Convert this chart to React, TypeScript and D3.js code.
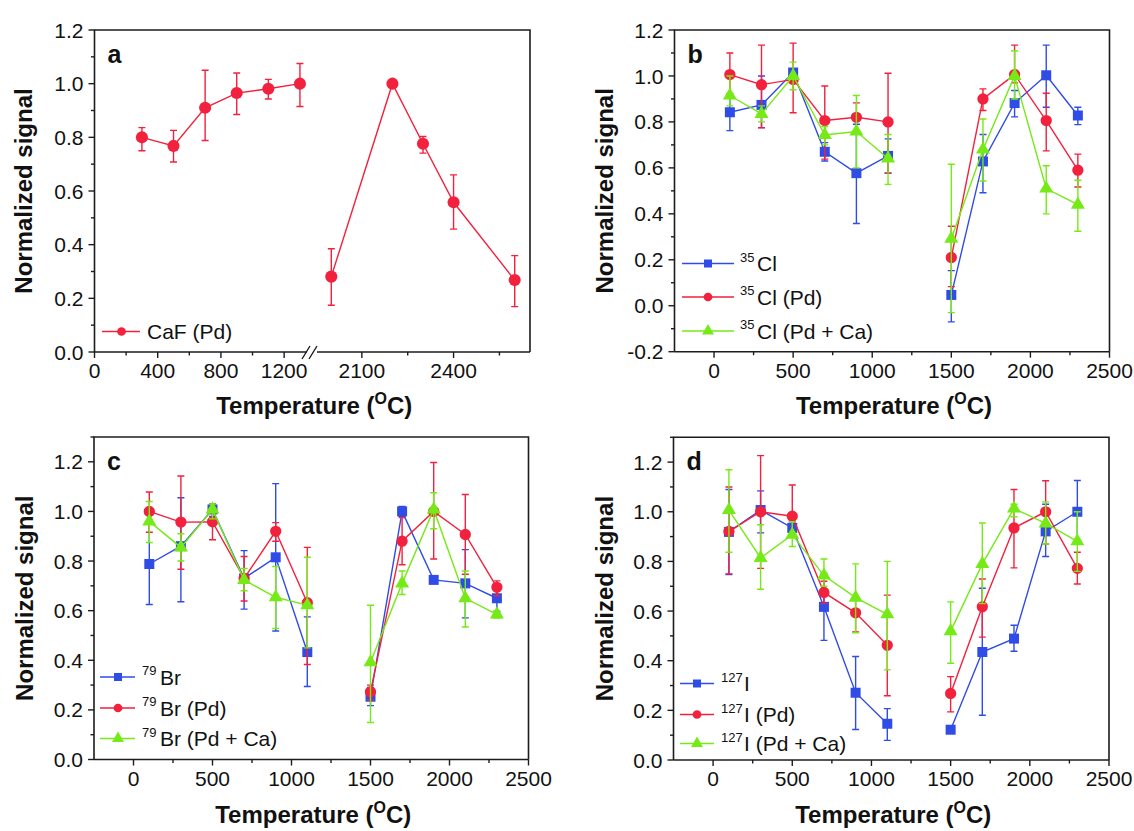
import React from "react";
import * as d3 from "d3";

// ---------------- data ----------------
const TEMPS = [100, 300, 500, 700, 900, 1100, 1500, 1700, 1900, 2100, 2300];

// panel a : CaF (Pd)
const CAF_TEMPS = [300, 500, 700, 900, 1100, 1300, 2000, 2200, 2300, 2400, 2600];
const CAF_PD = [0.8, 0.768, 0.91, 0.965, 0.981, 1.0, 0.281, 1.0, 0.776, 0.558, 0.268];
const CAF_PD_LO = [0.75, 0.708, 0.788, 0.885, 0.943, 0.915, 0.174, 1.0, 0.741, 0.458, 0.169];
const CAF_PD_HI = [0.836, 0.826, 1.05, 1.04, 1.016, 1.075, 0.385, 1.0, 0.803, 0.66, 0.359];

// panel b : 35Cl
const CL = [0.842, 0.874, 1.015, 0.67, 0.577, 0.652, 0.047, 0.628, 0.882, 1.003, 0.828];
const CL_LO = [0.762, 0.775, 0.99, 0.63, 0.358, 0.577, -0.07, 0.492, 0.822, 0.864, 0.788];
const CL_HI = [0.923, 1.0, 1.03, 0.71, 0.79, 0.726, 0.153, 0.745, 0.937, 1.134, 0.864];
const CL_PD = [1.006, 0.962, 0.985, 0.806, 0.82, 0.8, 0.21, 0.9, 1.006, 0.806, 0.59];
const CL_PD_LO = [0.905, 0.774, 0.84, 0.638, 0.75, 0.577, 0.083, 0.85, 0.97, 0.674, 0.517];
const CL_PD_HI = [1.1, 1.134, 1.143, 0.956, 0.883, 1.012, 0.346, 0.944, 1.134, 0.925, 0.66];
const CL_PDCA = [0.915, 0.835, 1.0, 0.743, 0.758, 0.641, 0.292, 0.68, 1.0, 0.51, 0.44];
const CL_PDCA_LO = [0.87, 0.8, 0.94, 0.7, 0.6, 0.528, -0.03, 0.543, 0.9, 0.4, 0.324];
const CL_PDCA_HI = [1.0, 0.87, 1.06, 0.78, 0.915, 0.745, 0.616, 0.813, 1.11, 0.609, 0.546];

// panel c : 79Br
const BR = [0.788, 0.86, 1.008, 0.73, 0.815, 0.433, 0.253, 1.0, 0.724, 0.71, 0.65];
const BR_LO = [0.625, 0.636, 0.98, 0.606, 0.518, 0.294, 0.217, 0.98, 0.71, 0.571, 0.595];
const BR_HI = [0.95, 1.055, 1.03, 0.842, 1.112, 0.575, 0.29, 1.02, 0.74, 0.846, 0.7];
const BR_PD = [1.0, 0.957, 0.958, 0.73, 0.92, 0.632, 0.273, 0.88, 1.0, 0.907, 0.694];
const BR_PD_LO = [0.916, 0.767, 0.886, 0.639, 0.88, 0.383, 0.24, 0.785, 0.808, 0.747, 0.66];
const BR_PD_HI = [1.078, 1.143, 1.03, 0.818, 0.955, 0.855, 0.3, 0.975, 1.197, 1.068, 0.72];
const BR_PDCA = [0.96, 0.855, 1.008, 0.724, 0.654, 0.622, 0.392, 0.71, 1.008, 0.65, 0.585];
const BR_PDCA_LO = [0.875, 0.8, 0.97, 0.68, 0.528, 0.45, 0.149, 0.665, 0.93, 0.534, 0.57];
const BR_PDCA_HI = [1.04, 0.91, 1.03, 0.77, 0.778, 0.815, 0.622, 0.76, 1.075, 0.76, 0.6];

// panel d : 127I
const IO = [0.919, 1.007, 0.935, 0.617, 0.271, 0.146, 0.122, 0.435, 0.489, 0.921, 1.0];
const IO_LO = [0.747, 0.915, 0.9, 0.482, 0.123, 0.079, 0.11, 0.18, 0.438, 0.82, 0.88];
const IO_HI = [1.09, 1.084, 0.96, 0.752, 0.417, 0.207, 0.135, 0.692, 0.543, 1.03, 1.126];
const IO_PD = [0.921, 1.0, 0.982, 0.675, 0.593, 0.462, 0.268, 0.617, 0.935, 1.0, 0.772];
const IO_PD_LO = [0.75, 0.772, 0.9, 0.63, 0.516, 0.259, 0.194, 0.495, 0.774, 0.87, 0.709];
const IO_PD_HI = [1.1, 1.226, 1.108, 0.72, 0.66, 0.664, 0.336, 0.729, 1.09, 1.125, 0.837];
const IO_PDCA = [1.007, 0.814, 0.908, 0.743, 0.654, 0.587, 0.519, 0.79, 1.013, 0.953, 0.881];
const IO_PDCA_LO = [0.837, 0.688, 0.86, 0.7, 0.512, 0.363, 0.39, 0.63, 0.98, 0.87, 0.76];
const IO_PDCA_HI = [1.169, 0.948, 0.96, 0.81, 0.79, 0.8, 0.637, 0.955, 1.03, 1.04, 1.0];

// tick values
const X_TICKS = [0, 500, 1000, 1500, 2000, 2500];
const X_MINOR = [250, 750, 1250, 1750, 2250];
const A_X_TICKS_1 = [0, 400, 800, 1200];
const A_X_MINOR_1 = [200, 600, 1000];
const A_X_TICKS_2 = [2100, 2400];
const A_X_MINOR_2 = [2250, 2550];

// ---------------- styles ----------------
const BLUE = "#2f4ce6";
const RED = "#f2213d";
const GREEN = "#76ea16";
const FONT = "'Liberation Sans', Arial, Helvetica, sans-serif";
const AXIS = "#1c1c1c";

type Series = {
  sup: string;
  name: string;
  color: string;
  shape: d3.SymbolType;
  size: number;
  legSize: number;
  temps: number[];
  vals: number[];
  lo: number[];
  hi: number[];
};

const mk = (sup: string, name: string, color: string, shape: d3.SymbolType, vals: number[], lo: number[], hi: number[], temps = TEMPS, size?: number): Series => ({
  sup,
  name,
  color,
  shape,
  size: size ?? (shape === d3.symbolSquare ? 100 : shape === d3.symbolCircle ? 100 : 85),
  legSize: shape === d3.symbolSquare ? 64 : shape === d3.symbolCircle ? 60 : 62,
  temps,
  vals,
  lo,
  hi,
});

type Seg = { domain: [number, number]; range: [number, number]; major: number[]; minor: number[] };

type PanelCfg = {
  letter: string;
  frame: { l: number; r: number; t: number; b: number };
  yDomain: [number, number];
  segs: Seg[];
  split: number;
  series: Series[];
  legend: { x0: number; x1: number; xm: number; xSup: number; xText: number; rows: number[] };
  yTitleX: number;
  xTitleY: number;
  broken: boolean;
};

const PANELS: PanelCfg[] = [
  {
    letter: "a",
    frame: { l: 94.5, r: 530, t: 30, b: 352 },
    yDomain: [0, 1.2],
    segs: [
      { domain: [0, 1370], range: [94.5, 311], major: A_X_TICKS_1, minor: A_X_MINOR_1 },
      { domain: [1950, 2650], range: [316, 530], major: A_X_TICKS_2, minor: A_X_MINOR_2 },
    ],
    split: 1600,
    series: [mk("", "CaF (Pd)", RED, d3.symbolCircle, CAF_PD, CAF_PD_LO, CAF_PD_HI, CAF_TEMPS, 115)],
    legend: { x0: 102, x1: 140, xm: 121.5, xSup: 147, xText: 147, rows: [331.5] },
    yTitleX: 23,
    xTitleY: 414,
    broken: true,
  },
  {
    letter: "b",
    frame: { l: 674.5, r: 1109.5, t: 30, b: 351.7 },
    yDomain: [-0.2, 1.2],
    segs: [{ domain: [-250, 2500], range: [674.5, 1109.5], major: X_TICKS, minor: X_MINOR }],
    split: 1300,
    series: [
      mk("35", "Cl", BLUE, d3.symbolSquare, CL, CL_LO, CL_HI),
      mk("35", "Cl (Pd)", RED, d3.symbolCircle, CL_PD, CL_PD_LO, CL_PD_HI),
      mk("35", "Cl (Pd + Ca)", GREEN, d3.symbolTriangle, CL_PDCA, CL_PDCA_LO, CL_PDCA_HI),
    ],
    legend: { x0: 682, x1: 734, xm: 708, xSup: 740, xText: 757, rows: [263.5, 297, 331] },
    yTitleX: 604,
    xTitleY: 414,
    broken: false,
  },
  {
    letter: "c",
    frame: { l: 94, r: 528.5, t: 437, b: 759.5 },
    yDomain: [0, 1.3],
    segs: [{ domain: [-250, 2500], range: [94, 528.5], major: X_TICKS, minor: X_MINOR }],
    split: 1300,
    series: [
      mk("79", "Br", BLUE, d3.symbolSquare, BR, BR_LO, BR_HI),
      mk("79", "Br (Pd)", RED, d3.symbolCircle, BR_PD, BR_PD_LO, BR_PD_HI),
      mk("79", "Br (Pd + Ca)", GREEN, d3.symbolTriangle, BR_PDCA, BR_PDCA_LO, BR_PDCA_HI),
    ],
    legend: { x0: 100, x1: 135, xm: 118, xSup: 142, xText: 160, rows: [677, 708, 738.5] },
    yTitleX: 24,
    xTitleY: 823,
    broken: false,
  },
  {
    letter: "d",
    frame: { l: 673.5, r: 1109, t: 437.3, b: 760 },
    yDomain: [0, 1.3],
    segs: [{ domain: [-250, 2500], range: [673.5, 1109], major: X_TICKS, minor: X_MINOR }],
    split: 1300,
    series: [
      mk("127", "I", BLUE, d3.symbolSquare, IO, IO_LO, IO_HI),
      mk("127", "I (Pd)", RED, d3.symbolCircle, IO_PD, IO_PD_LO, IO_PD_HI),
      mk("127", "I (Pd + Ca)", GREEN, d3.symbolTriangle, IO_PDCA, IO_PDCA_LO, IO_PDCA_HI),
    ],
    legend: { x0: 680, x1: 714, xm: 697, xSup: 721, xText: 744, rows: [683.5, 714.5, 743.5] },
    yTitleX: 604,
    xTitleY: 823,
    broken: false,
  },
];

function Panel({ cfg }: { cfg: PanelCfg }) {
  const { frame, yDomain, segs, split, series, legend } = cfg;
  const y = d3.scaleLinear().domain(yDomain).range([frame.b, frame.t]);
  const scales = segs.map((s) => d3.scaleLinear().domain(s.domain).range(s.range));
  const xOf = (t: number) => scales[segs.length > 1 && t > split ? 1 : 0](t);

  const steps = d3.range(Math.round(yDomain[0] * 10), Math.round(yDomain[1] * 10) + 1);
  const yMajor = steps.filter((i) => i % 2 === 0).map((i) => i / 10);
  const yMinor = steps.filter((i) => i % 2 !== 0).map((i) => i / 10);

  const line = d3
    .line<[number, number]>()
    .x((d) => d[0])
    .y((d) => d[1]);

  const bottomPath = cfg.broken
    ? `M${frame.l},${frame.b}H307 M317,${frame.b}H${frame.r}`
    : `M${frame.l},${frame.b}H${frame.r}`;

  return (
    <g>
      {/* data: error bars, lines, markers */}
      {series.map((s, si) => {
        const groups = [
          s.temps.map((t, i) => i).filter((i) => s.temps[i] < split),
          s.temps.map((t, i) => i).filter((i) => s.temps[i] > split),
        ];
        const sym = d3.symbol().type(s.shape).size(s.size)() as string;
        return (
          <g key={si}>
            {s.temps.map((t, i) => {
              const cx = xOf(t);
              const y0 = y(s.lo[i]);
              const y1 = y(s.hi[i]);
              if (Math.abs(y0 - y1) < 1) return null;
              return (
                <path
                  key={i}
                  d={`M${cx},${y0}V${y1} M${cx - 3.5},${y0}H${cx + 3.5} M${cx - 3.5},${y1}H${cx + 3.5}`}
                  stroke={s.color}
                  strokeWidth={1.4}
                  fill="none"
                />
              );
            })}
            {groups.map((g, gi) => (
              <path
                key={gi}
                d={line(g.map((i) => [xOf(s.temps[i]), y(s.vals[i])])) || ""}
                stroke={s.color}
                strokeWidth={1.4}
                fill="none"
              />
            ))}
            {s.temps.map((t, i) => (
              <path key={"m" + i} d={sym} transform={`translate(${xOf(t)},${y(s.vals[i])})`} fill={s.color} />
            ))}
          </g>
        );
      })}

      {/* frame */}
      <path
        d={`M${frame.l},${frame.b}V${frame.t}H${frame.r}V${frame.b}`}
        stroke={AXIS}
        strokeWidth={1.6}
        fill="none"
      />
      <path d={bottomPath} stroke={AXIS} strokeWidth={1.6} fill="none" />
      {cfg.broken && (
        <path
          d={`M302,${frame.b + 7}L310,${frame.b - 6} M309,${frame.b + 7}L317,${frame.b - 6}`}
          stroke={AXIS}
          strokeWidth={1.4}
          fill="none"
        />
      )}

      {/* y ticks */}
      {yMajor.map((v) => (
        <g key={"ym" + v}>
          <line x1={frame.l - 6} x2={frame.l} y1={y(v)} y2={y(v)} stroke={AXIS} strokeWidth={1.4} />
          <text x={frame.l - 11} y={y(v)} dy="0.36em" textAnchor="end" fontSize={21} fontFamily={FONT} fill="#111">
            {d3.format(".1f")(v).replace("−", "-")}
          </text>
        </g>
      ))}
      {yMinor.map((v) => (
        <line key={"yn" + v} x1={frame.l - 3.5} x2={frame.l} y1={y(v)} y2={y(v)} stroke={AXIS} strokeWidth={1.4} />
      ))}

      {/* x ticks */}
      {segs.map((s, si) => (
        <g key={"xs" + si}>
          {s.major.map((v) => (
            <g key={"xm" + v}>
              <line x1={scales[si](v)} x2={scales[si](v)} y1={frame.b} y2={frame.b + 6} stroke={AXIS} strokeWidth={1.4} />
              <text x={scales[si](v)} y={frame.b + 26} textAnchor="middle" fontSize={21} fontFamily={FONT} fill="#111">
                {v}
              </text>
            </g>
          ))}
          {s.minor.map((v) => (
            <line key={"xn" + v} x1={scales[si](v)} x2={scales[si](v)} y1={frame.b} y2={frame.b + 3.5} stroke={AXIS} strokeWidth={1.4} />
          ))}
        </g>
      ))}

      {/* panel letter */}
      <text x={frame.l + 13} y={frame.t + 33} fontSize={25} fontWeight="bold" fontFamily={FONT} fill="#111">
        {cfg.letter}
      </text>

      {/* axis titles */}
      <text
        transform={`translate(${cfg.yTitleX},${(frame.t + frame.b) / 2}) rotate(-90)`}
        dy="0.36em"
        textAnchor="middle"
        fontSize={24}
        fontWeight="bold"
        fontFamily={FONT}
        fill="#111"
      >
        Normalized signal
      </text>
      <text
        x={(frame.l + frame.r) / 2 + 2}
        y={cfg.xTitleY}
        textAnchor="middle"
        fontSize={24}
        fontWeight="bold"
        fontFamily={FONT}
        fill="#111"
      >
        <tspan>Temperature (</tspan>
        <tspan fontSize={16} dy={-10}>O</tspan>
        <tspan dy={10}>C)</tspan>
      </text>

      {/* legend */}
      {series.map((s, si) => {
        const ry = legend.rows[si];
        const sym = d3.symbol().type(s.shape).size(s.legSize)() as string;
        return (
          <g key={"lg" + si}>
            <line x1={legend.x0} x2={legend.x1} y1={ry} y2={ry} stroke={s.color} strokeWidth={1.6} />
            <path d={sym} transform={`translate(${legend.xm},${ry})`} fill={s.color} />
            {s.sup && (
              <text x={legend.xSup} y={ry - 2} fontSize={13} fontFamily={FONT} fill="#111">
                {s.sup}
              </text>
            )}
            <text x={legend.xText} y={ry + 7.5} fontSize={21} fontFamily={FONT} fill="#111">
              {s.name}
            </text>
          </g>
        );
      })}
    </g>
  );
}

export default function App() {
  return (
    <svg
      width={1134}
      height={831}
      viewBox="0 0 1134 831"
      style={{ position: "absolute", left: 0, top: 0, background: "#fff" }}
    >
      <rect x={0} y={0} width={1134} height={831} fill="#fff" />
      {PANELS.map((p) => (
        <Panel key={p.letter} cfg={p} />
      ))}
    </svg>
  );
}
